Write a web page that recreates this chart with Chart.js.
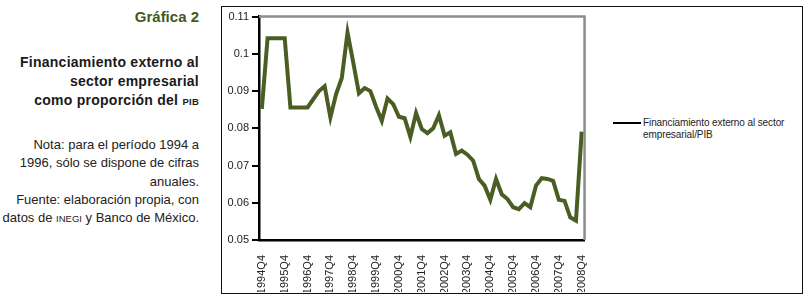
<!DOCTYPE html>
<html>
<head>
<meta charset="utf-8">
<script src="https://cdn.jsdelivr.net/npm/chart.js@4/dist/chart.umd.min.js"></script>
<style>
  body { margin: 0; background: #fff; width: 806px; height: 300px; overflow: hidden; position: relative; font-family: "Liberation Sans", Arial, sans-serif; }
  .side { position: absolute; left: 0; width: 199px; text-align: right; white-space: nowrap; }
  #num { top: 8px; font-size: 15px; font-weight: bold; color: #3f5a20; line-height: 18px; }
  #tit { top: 53px; font-size: 14px; font-weight: bold; color: #1a1a1a; line-height: 19px; letter-spacing: 0.25px; }
  #nota { top: 136px; font-size: 13px; color: #222; line-height: 18.3px; }
  .sc { font-size: 9.5px; }
  #frame { position: absolute; left: 221px; top: 6px; width: 580px; height: 286px; border: 1px solid #111; }
  #chart { position: absolute; left: 222px; top: 7px; }
  #leg-line { position: absolute; left: 613px; top: 122px; width: 28px; height: 2px; background: #000; }
  #leg-text { position: absolute; left: 643px; top: 117px; font-size: 10px; line-height: 12px; letter-spacing: -0.1px; color: #222; }
</style>
</head>
<body>
<div class="side" id="num">Gráfica 2</div>
<div class="side" id="tit">Financiamiento externo al<br>sector empresarial<br>como proporción del <span class="sc">PIB</span></div>
<div class="side" id="nota">Nota: para el período 1994 a<br>1996, sólo se dispone de cifras<br>anuales.<br>Fuente: elaboración propia, con<br>datos de <span class="sc">INEGI</span> y Banco de México.</div>
<div id="frame"></div>
<canvas id="chart" width="380" height="285"></canvas>
<div id="leg-line"></div>
<div id="leg-text">Financiamiento externo al sector<br>empresarial/PIB</div>

<script>
// trimestres (categorias)
const quarters = [
  '1994Q4',
  '1995Q1', '1995Q2', '1995Q3', '1995Q4',
  '1996Q1', '1996Q2', '1996Q3', '1996Q4',
  '1997Q1', '1997Q2', '1997Q3', '1997Q4',
  '1998Q1', '1998Q2', '1998Q3', '1998Q4',
  '1999Q1', '1999Q2', '1999Q3', '1999Q4',
  '2000Q1', '2000Q2', '2000Q3', '2000Q4',
  '2001Q1', '2001Q2', '2001Q3', '2001Q4',
  '2002Q1', '2002Q2', '2002Q3', '2002Q4',
  '2003Q1', '2003Q2', '2003Q3', '2003Q4',
  '2004Q1', '2004Q2', '2004Q3', '2004Q4',
  '2005Q1', '2005Q2', '2005Q3', '2005Q4',
  '2006Q1', '2006Q2', '2006Q3', '2006Q4',
  '2007Q1', '2007Q2', '2007Q3', '2007Q4',
  '2008Q1', '2008Q2', '2008Q3', '2008Q4'
];

// Financiamiento externo al sector empresarial / PIB
const finExterno = [
  0.0852,
  0.1042, 0.1042, 0.1042, 0.1042,
  0.0856, 0.0856, 0.0856, 0.0856,
  0.0878, 0.0900, 0.0913, 0.0829,
  0.0892, 0.0935, 0.1057, 0.0977,
  0.0894, 0.0908, 0.0900, 0.0858,
  0.0820, 0.0880, 0.0865, 0.0831,
  0.0827, 0.0777, 0.0841, 0.0798,
  0.0787, 0.0800, 0.0835, 0.0780,
  0.0789, 0.0731, 0.0740, 0.0729,
  0.0713, 0.0664, 0.0646, 0.0608,
  0.0664, 0.0623, 0.0610, 0.0588,
  0.0583, 0.0599, 0.0588, 0.0646,
  0.0666, 0.0664, 0.0659, 0.0608,
  0.0605, 0.0561, 0.0552, 0.0791
];

// etiquetas del eje x (una por año)
const xTickLabels = ['1994Q4', '1995Q4', '1996Q4', '1997Q4', '1998Q4', '1999Q4', '2000Q4',
  '2001Q4', '2002Q4', '2003Q4', '2004Q4', '2005Q4', '2006Q4', '2007Q4', '2008Q4'];

const yMin = 0.05;
const yMax = 0.11;
const yStep = 0.01;

// borde gris arriba y a la derecha del area de trazado
const frameLines = {
  id: 'frameLines',
  afterDraw(chart) {
    const a = chart.chartArea;
    const ctx = chart.ctx;
    ctx.save();
    ctx.strokeStyle = '#8c8c8c';
    ctx.lineWidth = 2.5;
    ctx.beginPath();
    ctx.moveTo(a.left, a.top);
    ctx.lineTo(a.right, a.top);
    ctx.lineTo(a.right, a.bottom);
    ctx.stroke();
    ctx.restore();
  }
};

const ctx = document.getElementById('chart').getContext('2d');
const chart = new Chart(ctx, {
  type: 'line',
  data: {
    labels: quarters,
    datasets: [{
      label: 'Financiamiento externo al sector empresarial/PIB',
      data: finExterno,
      borderColor: '#4a5e24',
      borderWidth: 4,
      pointRadius: 0,
      tension: 0,
      fill: false
    }]
  },
  options: {
    responsive: false,
    animation: false,
    layout: { padding: { top: 9, right: 13, left: 0, bottom: 0 } },
    plugins: {
      legend: { display: false },
      tooltip: { enabled: false }
    },
    scales: {
      x: {
        offset: true,
        grid: { display: false },
        border: { color: '#000', width: 2.5 },
        afterFit(scale) { scale.height = 52; },
        ticks: {
          autoSkip: false,
          maxRotation: 90,
          minRotation: 90,
          padding: 7,
          color: '#222',
          font: { family: '"Liberation Sans", Arial, sans-serif', size: 11 },
          callback: function (val, i) {
            const l = quarters[i];
            return xTickLabels.includes(l) ? l : '';
          }
        }
      },
      y: {
        min: yMin,
        max: yMax,
        grid: { drawOnChartArea: false, drawTicks: true, tickLength: 7, color: '#000', lineWidth: 2 },
        border: { color: '#000', width: 2.5 },
        afterFit(scale) { scale.width = 37; },
        ticks: {
          stepSize: yStep,
          padding: 3,
          color: '#222',
          font: { family: '"Liberation Sans", Arial, sans-serif', size: 11 },
          callback: v => String(Number(v.toFixed(2)))
        }
      }
    }
  },
  plugins: [frameLines]
});
</script>
</body>
</html>
